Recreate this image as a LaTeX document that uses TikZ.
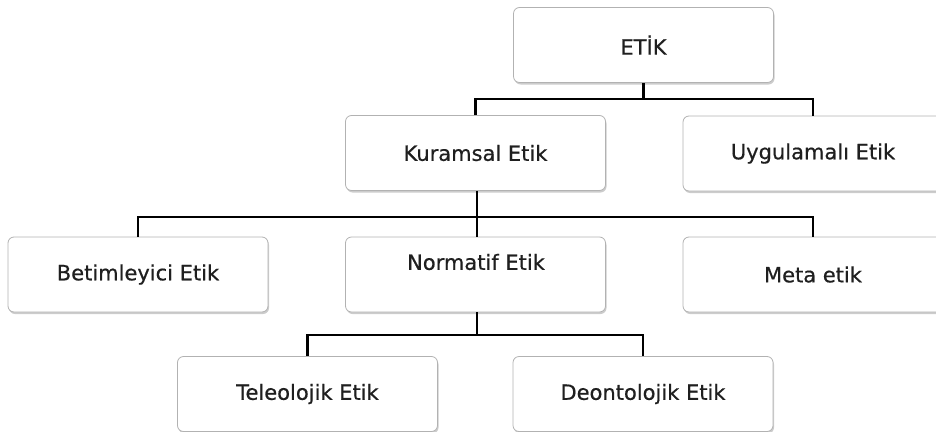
\documentclass[tikz,border=0pt]{standalone}
\usepackage{fontspec}
\setmainfont{DejaVu Sans}[FakeBold=0.6]
\usetikzlibrary{shadows,calc}
\begin{document}
\begin{tikzpicture}[x=1pt,y=-1pt,
  lbl/.style={font=\fontsize{21}{25}\selectfont, text=black!88},
  box/.style={lbl, draw=gray!60, line width=0.8pt, fill=white, rounded corners=6pt,
    minimum width=260pt, minimum height=75pt, inner sep=0pt,
    drop shadow={shadow xshift=1pt, shadow yshift=-2pt, opacity=0.4, fill=gray}},
  conn/.style={line width=2.8pt, black}]
\useasboundingbox (0,0) rectangle (936,431);
\node[box] (etik) at (643.5,45) {ETİK};
\node[box] (kur) at (475.5,153) {Kuramsal Etik};
\node[box] (uyg) at (813,153.5) {Uygulamalı Etik};
\node[box] (bet) at (138,274.5) {Betimleyici Etik};
\node[box] (nor) at (475.5,274.5) {};
\node[lbl] (norlabel) at (476,262) {Normatif Etik};
\node[box] (met) at (813,274.5) {Meta etik};
\node[box] (tel) at (307.5,394) {Teleolojik Etik};
\node[box] (deo) at (643,394) {Deontolojik Etik};
% level 1
\coordinate (h1) at (643.5,99);
\draw[conn] (etik.south) -- (h1);
\draw[conn] (kur.north) |- (h1) -| (uyg.north);
% level 2
\coordinate (h2) at (477,217);
\draw[conn] ([xshift=1.5pt]kur.south) -- ([xshift=1.5pt]nor.north);
\draw[conn] (bet.north) |- (h2) -| (met.north);
% level 3
\coordinate (h3) at (477,335);
\draw[conn] ([xshift=1.5pt]nor.south) -- (h3);
\draw[conn] (tel.north) |- (h3) -| (deo.north);
\end{tikzpicture}
\end{document}
